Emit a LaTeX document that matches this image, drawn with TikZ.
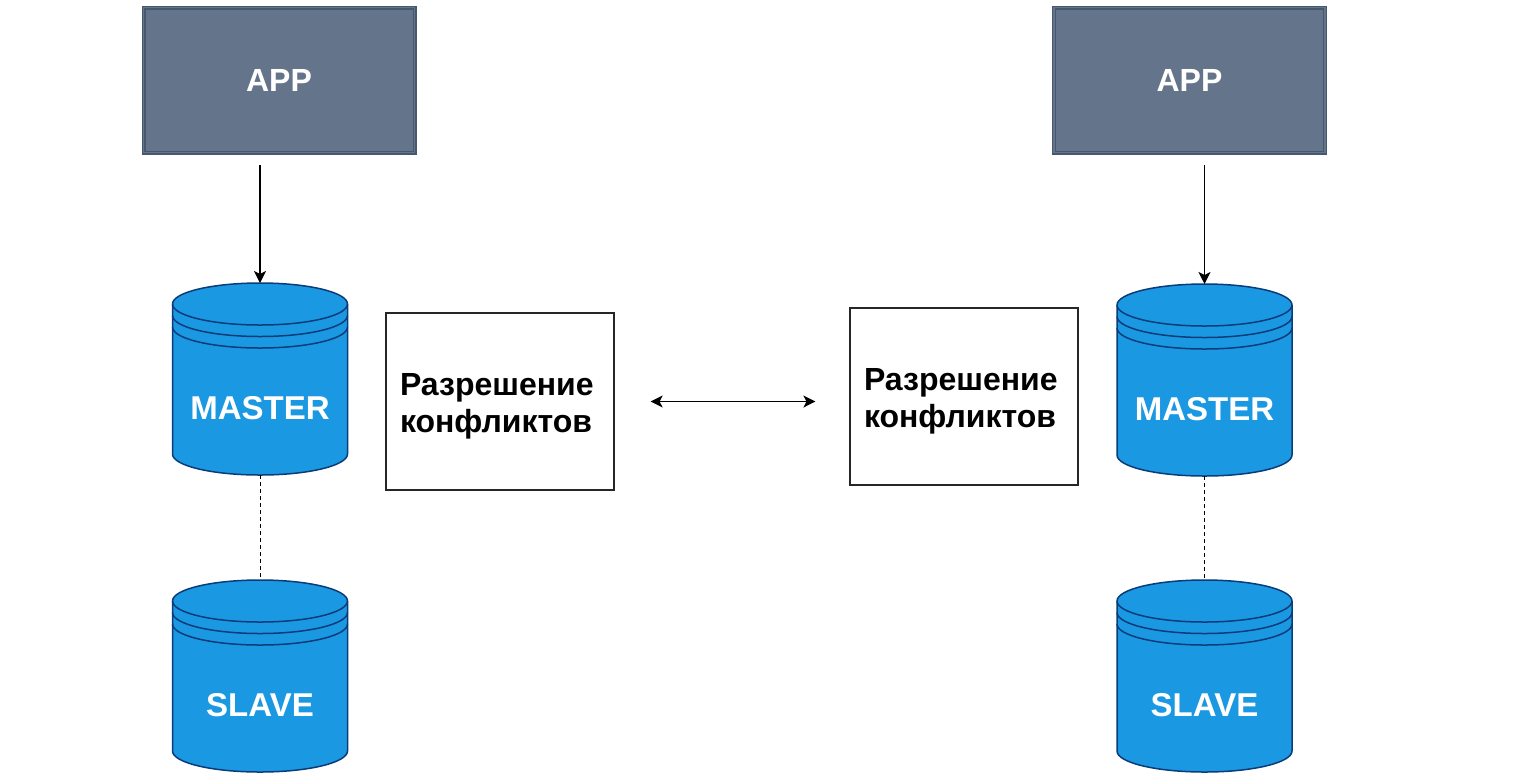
\documentclass[tikz,border=0pt]{standalone}
\usepackage{fontspec}
\setmainfont{Liberation Sans}
\usepackage{xcolor}
\usetikzlibrary{positioning}
\usetikzlibrary{calc}
\usetikzlibrary{arrows.meta}
\definecolor{appgrey}{HTML}{64748A}
\definecolor{appedge}{HTML}{46586E}
\definecolor{dbblue}{HTML}{1B98E2}
\definecolor{dbedge}{HTML}{0B3C7A}
\tikzset{
  appbox/.style={draw=appedge, double=appgrey, line width=0.6pt, double distance=0.8pt, fill=appgrey, minimum width=135.5pt, minimum height=72.5pt, text=white, font=\fontsize{16}{19}\selectfont\bfseries},
  resolvebox/.style={draw=black!85, line width=0.6pt, fill=white, minimum width=114pt, minimum height=88.5pt, text width=100pt, align=left, font=\fontsize{16}{18.5}\selectfont\bfseries, execute at begin node=\rule{0pt}{15.5pt}},
  dbshape/.style={minimum width=87.5pt, minimum height=96pt, inner sep=0pt, outer sep=0pt},
  dbline/.style={draw=dbedge, line width=0.75pt},
  dblabel/.style={text=white, font=\fontsize{16.5}{19}\selectfont\bfseries, inner sep=0pt},
  flow/.style={line width=0.6pt, >={Stealth[length=6pt, width=6pt, inset=1.5pt]}},
}
\newcommand{\dbnode}[3]{
  \node[dbshape] (#1) at (#2) {};
  \draw[dbline, fill=dbblue] ([yshift=-10.5pt]#1.north west) arc[start angle=180, delta angle=-180, x radius=43.75pt, y radius=10.5pt] -- ([yshift=10.5pt]#1.south east) arc[start angle=0, delta angle=-180, x radius=43.75pt, y radius=10.5pt] -- cycle;
  \draw[dbline] ([yshift=-10.5pt]#1.north west) arc[start angle=180, delta angle=180, x radius=43.75pt, y radius=10.5pt];
  \draw[dbline] ([yshift=-16.25pt]#1.north west) arc[start angle=180, delta angle=180, x radius=43.75pt, y radius=10.5pt];
  \draw[dbline] ([yshift=-22pt]#1.north west) arc[start angle=180, delta angle=180, x radius=43.75pt, y radius=10.5pt];
  \node[dblabel, yshift=-14.5pt] (#1-label) at (#1) {#3};
}

\begin{document}
\begin{tikzpicture}[x=0.5pt, y=-0.5pt]
    \useasboundingbox (0,0) rectangle (1536,773);

    \node[appbox] (app1) at (279,80) {APP};
    \node[appbox] (app2) at (1189.5,80) {APP};

    \dbnode{master1}{260,379}{MASTER}
    \dbnode{slave1}{260,676}{SLAVE}
    \dbnode{master2}{1204.5,380}{MASTER}
    \dbnode{slave2}{1204.5,676}{SLAVE}

    \node[resolvebox] (conf1) at (500,401.5) {Разрешение\\конфликтов};
    \node[resolvebox] (conf2) at (964,396.5) {Разрешение\\конфликтов};

    \draw[flow, ->, shorten <=6pt] (app1.south -| master1.north) -- (master1.north);
    \draw[flow, ->, shorten <=6pt] (app2.south -| master2.north) -- (master2.north);
    \draw[dashed, dash pattern=on 2pt off 1.5pt, line width=0.5pt] (master1.south) -- (slave1.north);
    \draw[dashed, dash pattern=on 2pt off 1.5pt, line width=0.5pt] (master2.south) -- (slave2.north);
    \draw[flow, <->, shorten <=18pt, shorten >=17pt] (conf1.east) -- (conf1.east -| conf2.west);
\end{tikzpicture}
\end{document}
